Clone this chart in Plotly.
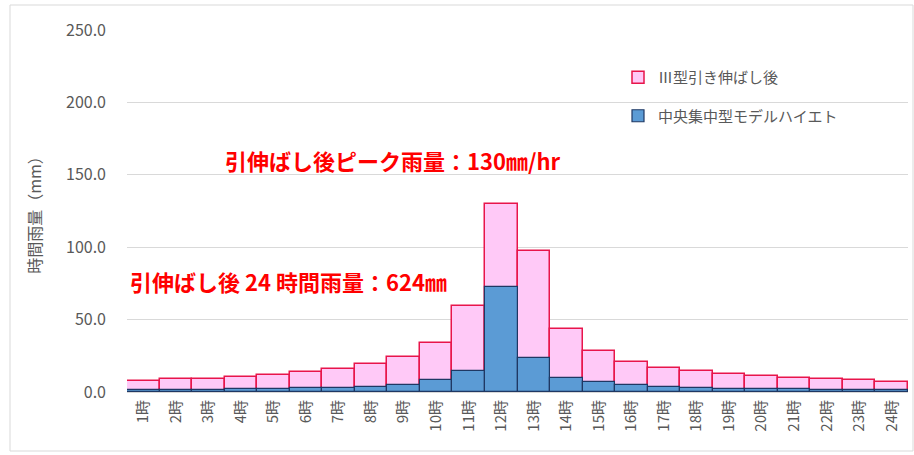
import plotly.graph_objects as go

# Hourly rainfall (mm) for each hour of the 24-hour design storm
hours = [f"{h}時" for h in range(1, 25)]
stretched = [7.6, 8.8, 9.3, 10.5, 11.4, 13.7, 15.8, 19.0, 24.3, 33.9, 59.5, 130.0,
             97.3, 43.4, 28.6, 21.0, 16.9, 14.8, 12.3, 10.9, 10.0, 9.1, 8.4, 7.2]
central = [1.2, 1.4, 1.6, 1.9, 2.3, 2.5, 3.0, 3.7, 4.8, 8.3, 14.5, 72.7,
           23.7, 9.9, 6.7, 4.6, 3.5, 2.8, 2.3, 2.0, 1.8, 1.6, 1.4, 1.2]
stretched_name = "Ⅲ型引き伸ばし後"
central_name = "中央集中型モデルハイエト"
y_ticks = [0, 50, 100, 150, 200, 250]

FONT = "Noto Sans CJK JP"
GREY = "#595959"

fig = go.Figure()
fig.add_trace(go.Bar(
    x=hours, y=stretched, name=stretched_name, legendgroup="a",
    marker=dict(color="#FFC9F7", line=dict(color="#E8154B", width=1.5)),
))
fig.add_trace(go.Bar(
    x=hours, y=central, name=central_name, legendgroup="b",
    marker=dict(color="#5B9BD5", line=dict(color="#1F3864", width=1.2)),
))

# plot-area geometry in pixels, used to place the frame, notes and legend
W, H = 914, 455
L, R, T, B = 127, 6, 30, 63
pw, ph = W - L - R, H - T - B


def px_x(x):
    return (x - L) / pw


def px_y(y):
    return (H - B - y) / ph


fig.add_shape(type="rect", xref="paper", yref="paper",
              x0=px_x(10), x1=px_x(913), y0=px_y(451), y1=px_y(5),
              line=dict(color="#D9D9D9", width=1), fillcolor="rgba(0,0,0,0)",
              layer="below")

note_font = dict(family=FONT, size=22, color="#FF0000", weight="bold")
fig.add_annotation(text=f"引伸ばし後ピーク雨量：{max(stretched):.0f}㎜/hr",
                   xref="paper", yref="paper", x=px_x(393), y=px_y(160),
                   xanchor="center", yanchor="middle", showarrow=False,
                   font=note_font)
fig.add_annotation(text=f"引伸ばし後 24 時間雨量：{round(sum(stretched)):.0f}㎜",
                   xref="paper", yref="paper", x=px_x(288), y=px_y(281),
                   xanchor="center", yanchor="middle", showarrow=False,
                   font=note_font)

fig.update_layout(
    width=W, height=H,
    margin=dict(l=L, r=R, t=T, b=B),
    barmode="overlay", bargap=0,
    plot_bgcolor="white", paper_bgcolor="white",
    font=dict(family=FONT, color=GREY),
    showlegend=True,
    legend=dict(x=px_x(618), y=px_y(61), xanchor="left", yanchor="top",
                bgcolor="rgba(0,0,0,0)", traceorder="grouped", tracegroupgap=16,
                font=dict(family=FONT, size=15, color=GREY),
                itemwidth=30),
    xaxis=dict(tickangle=-90, tickfont=dict(size=15, color=GREY),
               ticklabelstandoff=4,
               showgrid=False, ticks="", showline=False),
    yaxis=dict(range=[0, 250], tickvals=y_ticks, tickformat=".1f",
               tickfont=dict(size=16, color=GREY), ticklabelstandoff=20,
               showgrid=True, gridcolor="#D9D9D9", gridwidth=1,
               zeroline=True, zerolinecolor="#D9D9D9", ticks="",
               title=dict(text="時間雨量（mm）", font=dict(size=16, color=GREY),
                          standoff=20)),
)

fig.write_html("out.html")
